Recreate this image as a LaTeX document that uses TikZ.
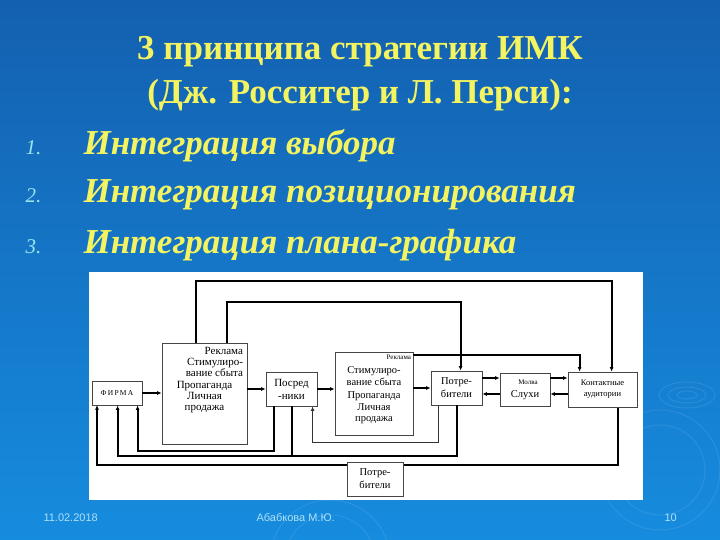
\documentclass[tikz,border=0pt]{standalone}
\usepackage{fontspec}
\setmainfont{Liberation Serif}
\newfontfamily\footfont{Liberation Sans}
\usetikzlibrary{arrows.meta,calc}
\definecolor{bgtop}{RGB}{20,96,176}
\definecolor{bgbot}{RGB}{22,140,222}
\definecolor{ttl}{RGB}{244,244,96}
\definecolor{numc}{RGB}{150,230,235}
\definecolor{footc}{RGB}{175,225,248}
\definecolor{boxgray}{RGB}{70,70,70}
\newcommand\bxt[3]{\parbox[c][#1][t]{#2}{\centering #3}}
\begin{document}
\begin{tikzpicture}[x=1pt,y=-1pt,
  box/.style={draw=boxgray,line width=0.8pt,fill=white,inner sep=0pt,
    font=\fontsize{10}{11}\selectfont,align=center},
  thk/.style={line width=2pt,black},
  thn/.style={line width=1pt,black!80},
  arr/.style={-{Latex[length=4.5pt,width=4pt]}},
  ttlfont/.style={font=\fontsize{35}{40}\selectfont\bfseries,text=ttl},
  itemfont/.style={font=\fontsize{35}{40}\selectfont\bfseries\itshape,text=ttl},
  numfont/.style={font=\fontsize{21}{24}\selectfont\itshape,text=numc},
  ftfont/.style={font=\footfont\fontsize{11}{13}\selectfont,text=footc},
  ripple/.style={draw=white,opacity=0.09,line width=1pt}
]
\useasboundingbox (0,0) rectangle (720,540);
\shade[top color=bgtop,bottom color=bgbot] (0,0) rectangle (720,540);
% ripples
\draw[ripple] (687,395) ellipse (28pt and 13pt);
\draw[ripple] (687,395) ellipse (19pt and 8pt);
\draw[ripple] (687,395) ellipse (10pt and 4pt);
\draw[ripple] (660,470) circle (60pt);
\draw[ripple] (660,470) circle (45pt);
\draw[ripple] (330,560) circle (60pt);
\draw[ripple] (330,560) circle (45pt);

% title
\node[ttlfont,anchor=base] (t1) at (360,60) {3 принципа стратегии ИМК};
\node[ttlfont,anchor=base] (t2) at (360,104) {(Дж. Росситер и Л. Перси):};
\node[numfont,anchor=base west] (n1) at (22,155) {1.};
\node[numfont,anchor=base west] (n2) at (22,203) {2.};
\node[numfont,anchor=base west] (n3) at (22,253) {3.};
\node[itemfont,anchor=base west] (i1) at (80,155) {Интеграция выбора};
\node[itemfont,anchor=base west] (i2) at (80,203) {Интеграция позиционирования};
\node[itemfont,anchor=base west] (i3) at (80,253) {Интеграция плана-графика};

% footer
\node[ftfont,anchor=base west] (f1) at (40,521) {11.02.2018};
\node[ftfont,anchor=base west] (f2) at (253,521) {Абабкова М.Ю.};
\node[ftfont,anchor=base west] (f3) at (661,521) {10};

% panel
\fill[white] (89,272) rectangle (643,500);

% outer lower line (behind the boxes)
\draw[thk,arr] (618,407) coordinate (kb) -- (618,465) -| (97,405);

% boxes
\node[box,minimum width=50pt,minimum height=24pt,font=\fontsize{7.5}{9}\selectfont] (firma) at (117,393) {Ф\,И\,Р\,М\,А};
\node[box,minimum width=85pt,minimum height=101pt,font=\fontsize{11}{11.3}\selectfont] (b1) at (204.5,393.5)
  {\bxt{93pt}{79pt}{\makebox[\linewidth][r]{Реклама\hspace{1pt}}\\
   \makebox[\linewidth][r]{Стимулиро-\hspace{1pt}}\\
   \makebox[\linewidth][r]{вание сбыта\hspace{1pt}}\\
   Пропаганда\\ Личная\\ продажа}};
\node[box,minimum width=51pt,minimum height=34pt,font=\fontsize{11}{13}\selectfont] (posr) at (291.5,389) {Посред\\-ники};
\node[box,minimum width=78pt,minimum height=83pt] (b2) at (374,393.5)
  {\bxt{77pt}{74pt}{{\fontsize{7}{8}\selectfont\makebox[\linewidth][r]{Реклама}}\\[1pt]
   {\fontsize{10.5}{12.5}\selectfont Стимулиро-\\ вание сбыта\\ Пропаганда\\ Личная\\ продажа}}};
\node[box,minimum width=51pt,minimum height=34pt,font=\fontsize{10.5}{13}\selectfont] (potr) at (456.5,388) {Потре-\\бители};
\node[box,minimum width=50pt,minimum height=33pt] (molva) at (525,389.5)
  {\hspace*{6pt}{\fontsize{7}{8}\selectfont Молва}\\[2pt]{\fontsize{10.5}{11}\selectfont Слухи}};
\node[box,minimum width=69pt,minimum height=35pt,font=\fontsize{8.5}{11}\selectfont] (kont) at (602.5,389.5) {Контактные\\аудитории};
\node[box,minimum width=56pt,minimum height=34pt,font=\fontsize{10.5}{13}\selectfont] (potr2) at (375,479) {Потре-\\бители};

% top connectors
\draw[thk,arr] ([xshift=34pt]b1.north west) -- ++(0,-62) -| ([xshift=44pt]kont.north west);
\draw[thk,arr] ([xshift=65pt]b1.north west) -- ++(0,-41) -| ([xshift=30pt]potr.north west);
\draw[thk,arr] ([yshift=-3pt]b2.north east) -| ([xshift=12pt]kont.north west);

% horizontal arrows
\draw[thk,arr] (firma.east) -- (firma.east -| b1.west);
\draw[thk,arr] (b1.east |- posr.west) -- (posr.west);
\draw[thk,arr] (posr.east) -- (posr.east -| b2.west);
\draw[thk,arr] (b2.east |- potr.west) -- (potr.west);
\draw[thk,arr] (potr.east |- 0,378) -- (molva.west |- 0,378);
\draw[thk,arr] (molva.west |- 0,394) -- (potr.east |- 0,394);
\draw[thk,arr] (molva.east |- 0,378) -- (kont.west |- 0,378);
\draw[thk,arr] (kont.west |- 0,394) -- (molva.east |- 0,394);

% lower connectors
\draw[thk,arr] ([xshift=8pt]posr.south west) -- ++(0,45) -| ([xshift=46pt]firma.south west);
\draw[thk,arr] ([xshift=26pt]potr.south west) -- ++(0,51) -| ([xshift=26pt]firma.south west);
\draw[thk] ([xshift=26pt]posr.south west) -- ++(0,50);
\draw[thn,arr] ([xshift=8pt]potr.south west) -- ++(0,37) -| ([xshift=47pt]posr.south west);
\end{tikzpicture}
\end{document}
